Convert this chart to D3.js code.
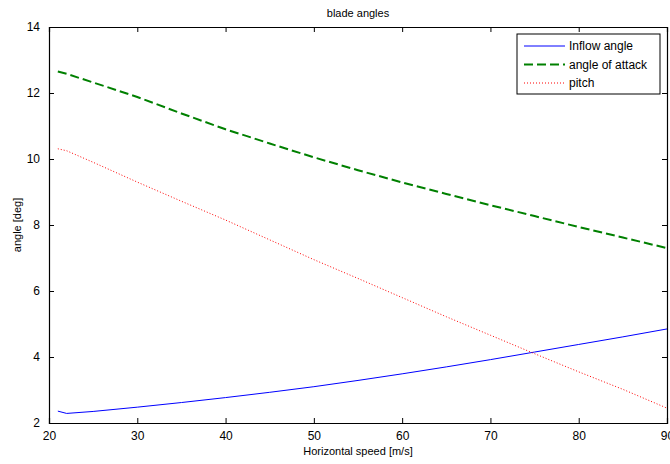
<!DOCTYPE html>
<html>
<head>
<meta charset="utf-8">
<script src="https://cdn.jsdelivr.net/npm/d3@7"></script>
<style>
  body { margin: 0; background: #fff; }
  text { font-family: "Liberation Sans", Arial, sans-serif; }
</style>
</head>
<body>
<div id="container"></div>
<script>
// data
const speeds = [21, 22, 25, 30, 35, 40, 45, 50, 55, 60, 65, 70, 75, 80, 85, 90];
const inflow = [2.36, 2.29, 2.35, 2.48, 2.62, 2.77, 2.93, 3.10, 3.29, 3.49, 3.70, 3.92, 4.15, 4.38, 4.61, 4.85];
const attack = [12.65, 12.58, 12.32, 11.88, 11.38, 10.90, 10.47, 10.05, 9.66, 9.29, 8.94, 8.60, 8.27, 7.94, 7.62, 7.30];
const pitch = [10.31, 10.25, 9.90, 9.30, 8.72, 8.15, 7.55, 6.95, 6.38, 5.80, 5.22, 4.66, 4.10, 3.55, 3.02, 2.45];
const xTicks = [20, 30, 40, 50, 60, 70, 80, 90];
const yTicks = [2, 4, 6, 8, 10, 12, 14];
const seriesNames = ["Inflow angle", "angle of attack", "pitch"];

const width = 670, height = 464;
const margins = { top: 27, bottom: 41, left: 49, right: 3 };

const svg = d3.select("#container").append("svg")
  .attr("width", width).attr("height", height);

const xScale = d3.scaleLinear().domain([20, 90])
  .range([margins.left, width - margins.right]);
const yScale = d3.scaleLinear().domain([2, 14])
  .range([height - margins.bottom, margins.top]);

const series = [
  { name: seriesNames[0], values: inflow, color: "#0000ff", width: 1, dash: null },
  { name: seriesNames[1], values: attack, color: "#008000", width: 2, dash: "9,4" },
  { name: seriesNames[2], values: pitch, color: "#ff0000", width: 1, dash: "1,2" }
];

const line = d3.line()
  .x((d, i) => xScale(speeds[i]))
  .y(d => yScale(d));

svg.selectAll("path.series")
  .data(series)
  .join("path")
  .attr("class", "series")
  .attr("d", d => line(d.values))
  .attr("fill", "none")
  .attr("stroke", d => d.color)
  .attr("stroke-width", d => d.width)
  .attr("stroke-dasharray", d => d.dash);

// axes, MATLAB-style box with inward ticks
const tick = 5;
const axisBottom = svg.append("g")
  .attr("transform", `translate(0,${yScale(2)})`)
  .call(d3.axisBottom(xScale).tickValues(xTicks).tickSize(-tick).tickPadding(tick + 3));
const axisTop = svg.append("g")
  .attr("transform", `translate(0,${yScale(14)})`)
  .call(d3.axisTop(xScale).tickValues(xTicks).tickSize(-tick).tickFormat(""));
const axisLeft = svg.append("g")
  .attr("transform", `translate(${xScale(20)},0)`)
  .call(d3.axisLeft(yScale).tickValues(yTicks).tickSize(-tick).tickPadding(tick + 4));
const axisRight = svg.append("g")
  .attr("transform", `translate(${xScale(90)},0)`)
  .call(d3.axisRight(yScale).tickValues(yTicks).tickSize(-tick).tickFormat(""));

[axisBottom, axisTop, axisLeft, axisRight].forEach(g => {
  g.selectAll("path.domain").attr("stroke", "#000").attr("stroke-width", 1.2);
  g.selectAll(".tick line").attr("stroke", "#000");
  g.selectAll("text").attr("font-size", 12).attr("fill", "#000")
    .style("font-family", "'Liberation Sans', Arial, sans-serif");
});

// titles
svg.append("text")
  .attr("x", (xScale(20) + xScale(90)) / 2).attr("y", 17)
  .attr("text-anchor", "middle").attr("font-size", 11)
  .text("blade angles");

svg.append("text")
  .attr("x", (xScale(20) + xScale(90)) / 2).attr("y", 455)
  .attr("text-anchor", "middle").attr("font-size", 11)
  .text("Horizontal speed [m/s]");

svg.append("text")
  .attr("transform", `translate(21,${(yScale(2) + yScale(14)) / 2}) rotate(-90)`)
  .attr("text-anchor", "middle").attr("font-size", 11)
  .text("angle [deg]");

// legend
const legend = svg.append("g").attr("transform", "translate(517,34)");
legend.append("rect")
  .attr("width", 143).attr("height", 60)
  .attr("fill", "#fff").attr("stroke", "#000").attr("stroke-width", 1);

const rows = legend.selectAll("g.row")
  .data(series)
  .join("g")
  .attr("class", "row")
  .attr("transform", (d, i) => `translate(0,${12 + i * 18.5})`);

rows.append("line")
  .attr("x1", 7).attr("x2", 48)
  .attr("stroke", d => d.color)
  .attr("stroke-width", d => d.width)
  .attr("stroke-dasharray", d => d.dash);

rows.append("text")
  .attr("x", 52).attr("dy", "0.35em")
  .attr("font-size", 12)
  .text(d => d.name);
</script>
</body>
</html>
